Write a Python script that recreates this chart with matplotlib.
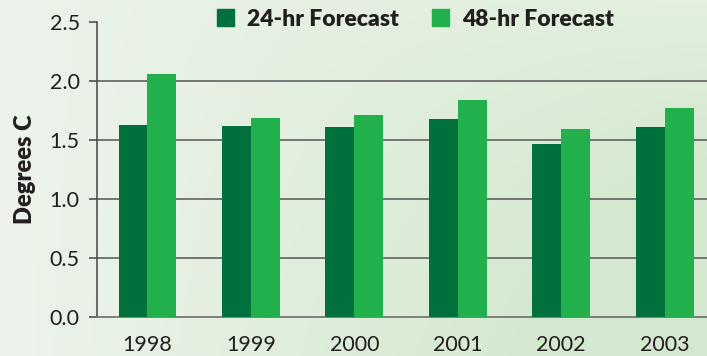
import numpy as np
import matplotlib.pyplot as plt
from matplotlib.colors import LinearSegmentedColormap
from matplotlib.patches import Patch

years = ['1998', '1999', '2000', '2001', '2002', '2003']
fc24 = [1.63, 1.62, 1.61, 1.68, 1.47, 1.61]
fc48 = [2.06, 1.69, 1.71, 1.84, 1.59, 1.77]

dark = '#00703c'
light = '#21b04b'

plt.rcParams['font.family'] = ['Lato', 'DejaVu Sans']

fig = plt.figure(figsize=(7.07, 3.56), dpi=100)

# pale green backdrop, whiter on the left and bottom right
bg = fig.add_axes([0, 0, 1, 1])
xx, yy = np.meshgrid(np.linspace(0, 1, 200), np.linspace(0, 1, 100))
shade = np.clip(0.25 + 0.75 * xx - 0.45 * (xx * (1 - yy)) ** 2 + 0.25 * yy * xx, 0, 1)
cmap = LinearSegmentedColormap.from_list('bg', ['#f6f8f5', '#d4e8cf'])
bg.imshow(shade, cmap=cmap, aspect='auto', extent=[0, 1, 0, 1], origin='upper', vmin=0, vmax=1)
bg.axis('off')

ax = fig.add_axes([0.1372, 0.1096, 0.8628, 0.8287])
ax.patch.set_alpha(0)

x = np.arange(len(years))
w = 0.28
ax.bar(x - w / 2, fc24, w, color=dark, zorder=3)
ax.bar(x + w / 2, fc48, w, color=light, zorder=3)

ax.set_xlim(-0.488, 5.41)
ax.set_ylim(0, 2.5)
ax.set_yticks([0, 0.5, 1.0, 1.5, 2.0, 2.5])
ax.set_yticklabels(['0.0', '0.5', '1.0', '1.5', '2.0', '2.5'])
ax.set_xticks(x)
ax.set_xticklabels(years)
for g in [0.5, 1.0, 1.5, 2.0]:
    ax.axhline(g, color='#555555', lw=1.1, zorder=1)

for s in ['top', 'right']:
    ax.spines[s].set_visible(False)
ax.spines['left'].set_color('#444444')
ax.spines['bottom'].set_color('#777777')
ax.spines['left'].set_linewidth(1.1)
ax.spines['bottom'].set_linewidth(1.3)
ax.tick_params(axis='y', length=5.5, width=1.1, color='#444444', labelsize=15.5,
               labelcolor='#231f20', pad=7)
ax.tick_params(axis='x', length=0, labelsize=15.5, labelcolor='#231f20', pad=13)

ax.set_ylabel('Degrees C', fontsize=17, fontweight='heavy', color='#231f20', labelpad=10)

handles = [Patch(color=dark, label='24-hr Forecast'), Patch(color=light, label='48-hr Forecast')]
leg = ax.legend(handles=handles, loc='upper center', bbox_to_anchor=(0.522, 1.115), ncol=2,
                frameon=False, handlelength=0.75, handleheight=0.75, handletextpad=0.55,
                columnspacing=1.45, prop={'weight': 'heavy', 'size': 16.5})
for t in leg.get_texts():
    t.set_color('#231f20')

fig.savefig('out.png', dpi=100)
